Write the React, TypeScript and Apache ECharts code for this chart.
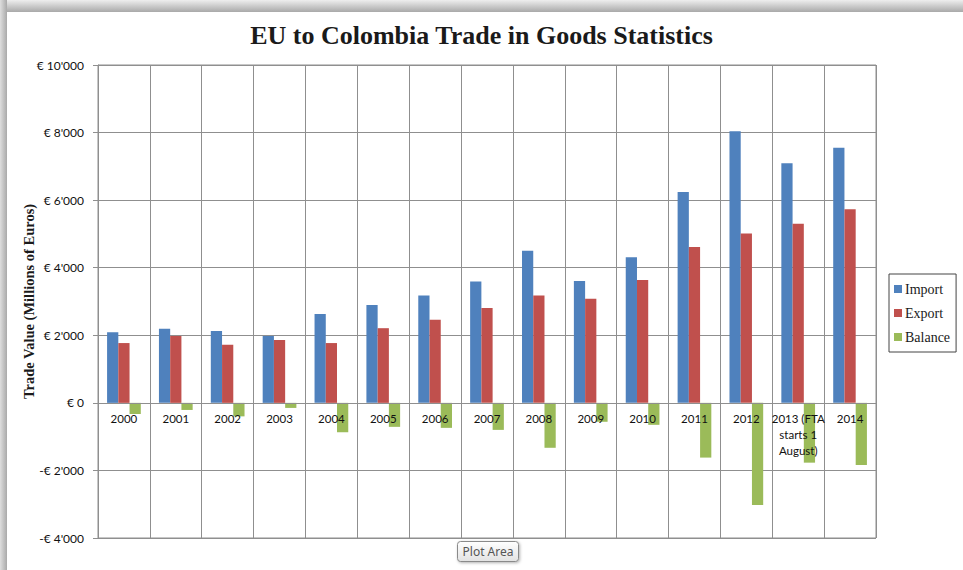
import React, { useEffect, useRef } from "react";
import * as echarts from "echarts";

const categories = [
  "2000", "2001", "2002", "2003", "2004", "2005", "2006", "2007",
  "2008", "2009", "2010", "2011", "2012", "2013 (FTA\nstarts 1\nAugust)", "2014",
];
const importValues = [2090, 2190, 2130, 1980, 2630, 2900, 3180, 3590, 4500, 3610, 4310, 6240, 8040, 7090, 7550];
const exportValues = [1770, 1980, 1720, 1860, 1770, 2210, 2460, 2810, 3180, 3080, 3640, 4610, 5010, 5300, 5730];
const balanceValues = [-330, -210, -400, -150, -870, -710, -740, -800, -1330, -560, -650, -1620, -3020, -1770, -1840];
const seriesNames = ["Import", "Export", "Balance"];
const titleText = "EU to Colombia Trade in Goods Statistics";
const yAxisTitle = "Trade Value (Millions of Euros)";
const yMin = -4000;
const yMax = 10000;

function fmt(v: number): string {
  const a = Math.abs(v);
  const s = String(a).replace(/\B(?=(\d{3})+(?!\d))/g, "'");
  return v < 0 ? `-€ ${s}` : `€ ${s}`;
}

export default function App() {
  const ref = useRef<HTMLDivElement>(null);
  useEffect(() => {
    document.body.style.margin = "0";
    const chart = echarts.init(ref.current!, undefined, { renderer: "svg" });
    const grid = "#8f8f8f";
    const gridTop = 65;
    const gridBottom = 32;
    const plotH = 570 - gridTop - gridBottom;
    const zeroOffset = -Math.round((-yMin / (yMax - yMin)) * plotH);
    chart.setOption({
      animation: false,
      backgroundColor: "#ffffff",
      title: {
        text: titleText,
        left: "center",
        top: 17,
        textStyle: {
          fontFamily: "Liberation Serif",
          fontWeight: "bold",
          fontSize: 26,
          color: "#1a1a1a",
        },
      },
      legend: {
        orient: "vertical",
        left: 889,
        top: 274,
        padding: [8, 6, 8, 5],
        itemGap: 10,
        itemWidth: 8,
        itemHeight: 8,
        icon: "rect",
        borderColor: "#444",
        borderWidth: 1,
        data: seriesNames,
        textStyle: {
          fontFamily: "Liberation Serif",
          fontSize: 14,
          color: "#1a1a1a",
          padding: [0, 0, 0, -2],
        },
      },
      grid: {
        left: 98,
        right: 87,
        top: gridTop,
        bottom: gridBottom,
        outerBoundsMode: "none",
        containLabel: false,
        show: true,
        borderColor: grid,
        borderWidth: 1,
        backgroundColor: "transparent",
      },
      xAxis: {
        type: "category",
        data: categories,
        z: 10,
        offset: zeroOffset,
        axisLine: { onZero: false, lineStyle: { color: grid } },
        axisTick: { show: false },
        splitLine: { show: true, interval: 0, lineStyle: { color: grid, width: 1 } },
        axisLabel: {
          interval: 0,
          margin: 7,
          fontFamily: "Lato",
          fontSize: 11.5,
          lineHeight: 16,
          color: "#111",
        },
      },
      yAxis: {
        type: "value",
        min: yMin,
        max: yMax,
        interval: 2000,
        name: yAxisTitle,
        nameLocation: "middle",
        nameGap: 62,
        nameMoveOverlap: false,
        nameTextStyle: {
          fontFamily: "Liberation Serif",
          fontWeight: "bold",
          fontSize: 14.5,
          color: "#1a1a1a",
        },
        axisLine: { show: true, lineStyle: { color: grid } },
        axisTick: { show: true, inside: false, length: 5, lineStyle: { color: grid } },
        splitLine: { show: true, lineStyle: { color: grid, width: 1 } },
        axisLabel: {
          formatter: (v: number) => fmt(v),
          margin: 14,
          fontFamily: "Lato",
          fontSize: 12,
          color: "#111",
        },
      },
      series: [
        { name: seriesNames[0], type: "bar", data: importValues, barGap: "0%", barCategoryGap: "35%", itemStyle: { color: "#4F81BD" } },
        { name: seriesNames[1], type: "bar", data: exportValues, barGap: "0%", barCategoryGap: "35%", itemStyle: { color: "#C0504D" } },
        { name: seriesNames[2], type: "bar", data: balanceValues, barGap: "0%", barCategoryGap: "35%", itemStyle: { color: "#9BBB59" } },
      ],
      graphic: [
        {
          type: "rect",
          z: 100,
          shape: { x: 0, y: 0, width: 963, height: 12 },
          style: {
            fill: new echarts.graphic.LinearGradient(0, 0, 0, 1, [
              { offset: 0, color: "#eeeeee" },
              { offset: 1, color: "#a9a9a9" },
            ]),
          },
        },
        {
          type: "rect",
          z: 100,
          shape: { x: 0, y: 0, width: 7, height: 570 },
          style: {
            fill: new echarts.graphic.LinearGradient(0, 0, 1, 0, [
              { offset: 0, color: "#dedede" },
              { offset: 1, color: "#a9a9a9" },
            ]),
          },
        },
        {
          type: "group",
          left: 457,
          top: 541,
          z: 100,
          children: [
            {
              type: "rect",
              shape: { x: 0, y: 0, width: 61, height: 20, r: 3 },
              style: {
                fill: new echarts.graphic.LinearGradient(0, 0, 0, 1, [
                  { offset: 0, color: "#ffffff" },
                  { offset: 1, color: "#e2e2e2" },
                ]),
                stroke: "#8a8a8a",
                lineWidth: 1,
                shadowBlur: 3,
                shadowOffsetX: 1,
                shadowOffsetY: 1,
                shadowColor: "rgba(0,0,0,0.3)",
              },
            },
            {
              type: "text",
              x: 30.5,
              y: 10,
              style: {
                text: "Plot Area",
                fontFamily: "Noto Sans",
                fontSize: 12,
                fill: "#555",
                align: "center",
                verticalAlign: "middle",
              },
            },
          ],
        },
      ],
    });
    return () => chart.dispose();
  }, []);
  return <div ref={ref} style={{ position: "fixed", left: 0, top: 0, width: 963, height: 570 }} />;
}
